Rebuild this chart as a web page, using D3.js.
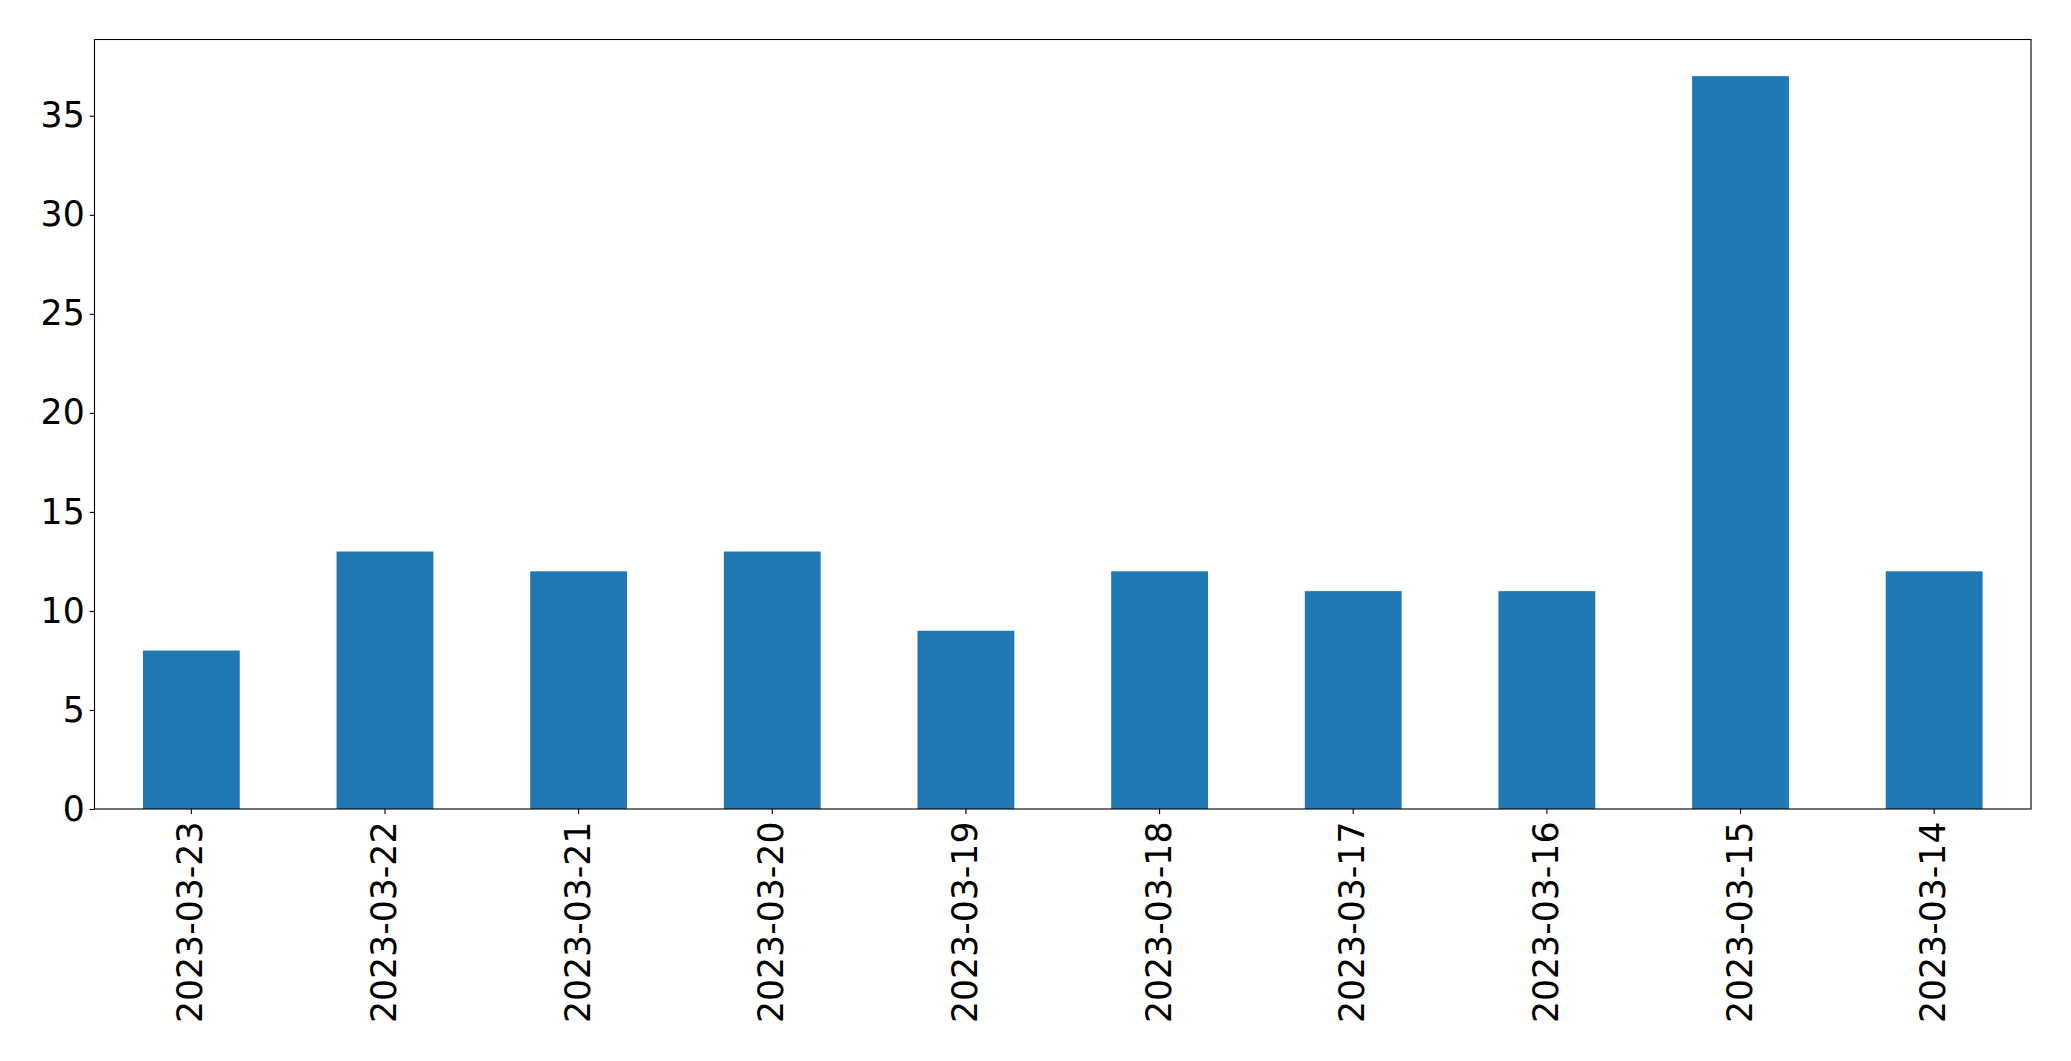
<!DOCTYPE html>
<html><head><meta charset="utf-8">
<script src="https://cdn.jsdelivr.net/npm/d3@7"></script>
<style>body{margin:0;background:#fff}svg{display:block}</style>
</head><body>
<script>
const categories = ["2023-03-23","2023-03-22","2023-03-21","2023-03-20","2023-03-19","2023-03-18","2023-03-17","2023-03-16","2023-03-15","2023-03-14"];
const values = [8,13,12,13,9,12,11,11,37,12];
const yTicks = [0,5,10,15,20,25,30,35];

const W = 2071, H = 1061;
const m = {left:94.5, top:39.5, right:2031, bottom:809};
const svg = d3.select("body").append("svg").attr("width",W).attr("height",H);
const x = d3.scaleBand().domain(categories).range([m.left,m.right]).paddingInner(0.5).paddingOuter(0.25);
const y = d3.scaleLinear().domain([0, d3.max(values)*1.05]).range([m.bottom,m.top]);
const font = "DejaVu Sans";
const fs = 34.7;

svg.append("g").selectAll("rect").data(values).join("rect")
  .attr("x",(d,i)=>x(categories[i])).attr("width",x.bandwidth())
  .attr("y",d=>y(d)).attr("height",d=>y(0)-y(d)).attr("fill","#1f77b4");

const ya = svg.append("g").attr("transform",`translate(${m.left},0)`)
  .call(d3.axisLeft(y).tickValues(yTicks).tickSize(4.9).tickPadding(4.9).tickFormat(d3.format("d")));
ya.select(".domain").remove();
ya.selectAll("line").attr("stroke","#000").attr("stroke-width",1.1);
ya.selectAll("text").attr("font-family",font).attr("font-size",fs).attr("fill","#000");

const xa = svg.append("g").attr("transform",`translate(0,${m.bottom})`)
  .call(d3.axisBottom(x).tickSize(4.9).tickPadding(0));
xa.select(".domain").remove();
xa.selectAll("line").attr("stroke","#000").attr("stroke-width",1.1);
xa.selectAll("text").attr("font-family",font).attr("font-size",fs).attr("fill","#000")
  .attr("text-anchor","end").attr("dy",null).attr("y",0)
  .attr("dominant-baseline","central")
  .attr("transform","translate(-1,12.5) rotate(-90)");

svg.append("rect").attr("x",m.left).attr("y",m.top).attr("width",m.right-m.left).attr("height",m.bottom-m.top)
  .attr("fill","none").attr("stroke","#000").attr("stroke-width",1.1);
</script>
</body></html>
